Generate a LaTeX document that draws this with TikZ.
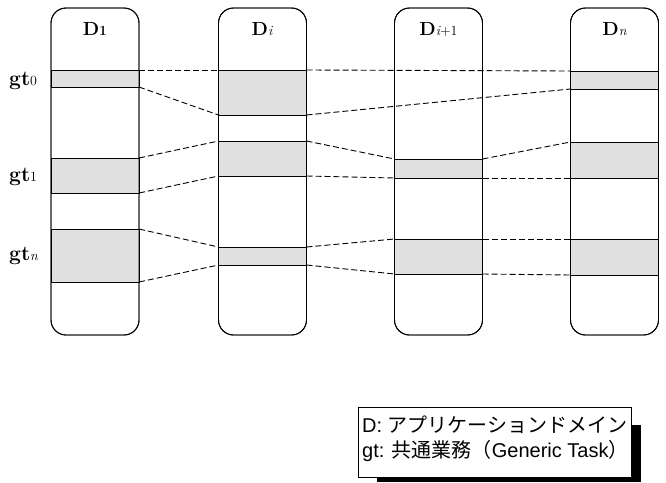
\documentclass[tikz,border=0pt]{standalone}
\usepackage{fontspec}
\newfontfamily\jpf{Noto Sans CJK JP}
\newfontfamily\latf{Liberation Sans}
\newcommand\lsub[1]{{\fontsize{14}{14}\selectfont #1}}
\begin{document}
\begin{tikzpicture}[x=1pt,y=-1pt,
  col/.style={draw, line width=0.9pt, rounded corners=15pt, minimum width=88pt, minimum height=327pt, anchor=north west, inner sep=0pt, outer sep=0pt},
  band/.style={draw, line width=0.8pt, fill=black!12, inner sep=0pt, outer sep=0pt, anchor=north west, minimum width=88pt},
  link/.style={dash pattern=on 6pt off 3pt, line width=0.9pt},
  hdr/.style={font=\fontsize{19}{19}\selectfont\bfseries, anchor=base, inner sep=0pt},
  gtl/.style={font=\fontsize{21}{21}\selectfont\bfseries, anchor=base west, inner sep=0pt},
  legtxt/.style={font=\latf\fontsize{20}{20}\selectfont, anchor=base west, inner sep=0pt}]
\useasboundingbox (0,0) rectangle (666,482);

% columns
\node[col] (c1) at (51,8) {};
\node[col] (ci) at (218.5,8) {};
\node[col] (cj) at (394.5,8) {};
\node[col] (cn) at (570.5,8) {};

% bands D1
\node[band, minimum height=17pt] (a0) at (51,70) {};
\node[band, minimum height=35pt] (a1) at (51,158) {};
\node[band, minimum height=53pt] (an) at (51,229) {};
% bands Di
\node[band, minimum height=45pt] (b0) at (218.5,70) {};
\node[band, minimum height=35pt] (b1) at (218.5,141) {};
\node[band, minimum height=18pt] (bn) at (218.5,247) {};
% bands Di+1
\node[band, minimum height=19pt] (d1) at (394.5,159) {};
\node[band, minimum height=35pt] (dn) at (394.5,239) {};
% bands Dn
\node[band, minimum height=18pt] (e0) at (570.5,71) {};
\node[band, minimum height=36pt] (e1) at (570.5,142) {};
\node[band, minimum height=36pt] (en) at (570.5,239) {};

% redraw column outlines on top
\node[col] at (51,8) {};
\node[col] at (218.5,8) {};
\node[col] at (394.5,8) {};
\node[col] at (570.5,8) {};

% links gt0
\draw[link] (a0.north east) -- (b0.north west);
\draw[link] (b0.north east) -- (e0.north west);
\draw[link] (a0.south east) -- (b0.south west);
\draw[link] (b0.south east) -- (e0.south west);
% links gt1
\draw[link] (a1.north east) -- (b1.north west);
\draw[link] (b1.north east) -- (d1.north west);
\draw[link] (d1.north east) -- (e1.north west);
\draw[link] (a1.south east) -- (b1.south west);
\draw[link] (b1.south east) -- (d1.south west);
\draw[link] (d1.south east) -- (e1.south west);
% links gtn
\draw[link] (an.north east) -- (bn.north west);
\draw[link] (bn.north east) -- (dn.north west);
\draw[link] (dn.north east) -- (en.north west);
\draw[link] (an.south east) -- (bn.south west);
\draw[link] (bn.south east) -- (dn.south west);
\draw[link] (dn.south east) -- (en.south west);

% headers
\node[hdr] (h1) at (95,35) {D\lsub{1}};
\node[hdr] (hi) at (262,35) {D\lsub{\mdseries\itshape i}};
\node[hdr] (hj) at (438.5,35) {D\lsub{\mdseries{\itshape i}+1}};
\node[hdr] (hn) at (614.5,35) {D\lsub{\mdseries\itshape n}};

% gt labels
\node[gtl] (g0) at (9,85) {gt\lsub{\mdseries 0}};
\node[gtl] (g1) at (9,181) {gt\lsub{\mdseries 1}};
\node[gtl] (gn) at (9,260) {gt\lsub{\mdseries\itshape n}};

% legend
\fill[black] (377,425) rectangle (641,482);
\node[draw, fill=white, line width=0.8pt, inner sep=0pt, outer sep=0pt, minimum width=273pt, minimum height=70pt, anchor=north west] (leg) at (358,407) {};
\node[legtxt] (l1) at (362,432) {D: {\jpf アプリケーションドメイン}};
\node[legtxt] (l2) at (362,457) {gt: {\jpf 共通業務（}Generic Task{\jpf ）}};
\end{tikzpicture}
\end{document}
